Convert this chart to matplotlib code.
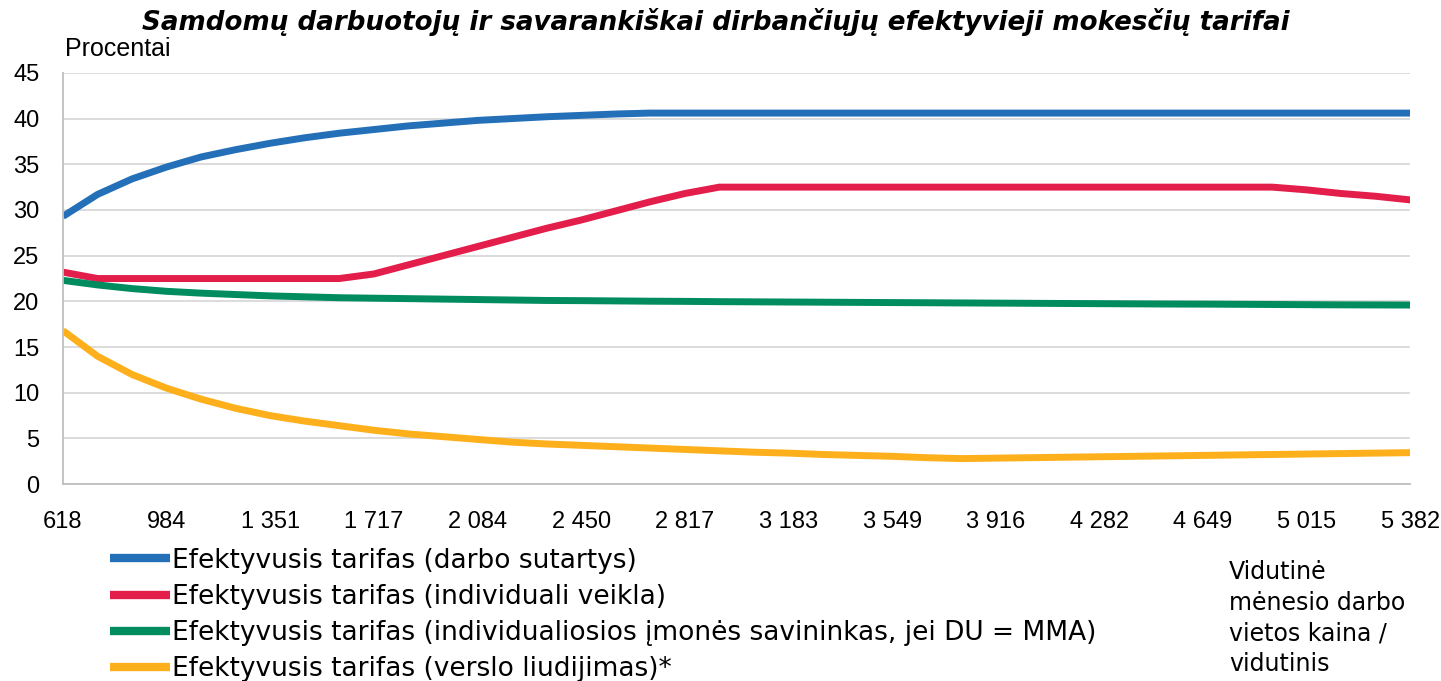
import numpy as np
import matplotlib
matplotlib.use("Agg")
import matplotlib.pyplot as plt

# vidutine darbo vietos kaina (categories, labels every 3rd)
x_labels = ["618", "984", "1 351", "1 717", "2 084", "2 450", "2 817", "3 183",
            "3 549", "3 916", "4 282", "4 649", "5 015", "5 382"]
n_points = 40

darbo_sutartys = [29.3, 31.7, 33.4, 34.7, 35.8, 36.6, 37.3, 37.9, 38.4, 38.8,
                  39.2, 39.5, 39.8, 40.0, 40.2, 40.35, 40.5, 40.6, 40.6, 40.6,
                  40.6, 40.6, 40.6, 40.6, 40.6, 40.6, 40.6, 40.6, 40.6, 40.6,
                  40.6, 40.6, 40.6, 40.6, 40.6, 40.6, 40.6, 40.6, 40.6, 40.6]
individuali_veikla = [23.2, 22.5, 22.5, 22.5, 22.5, 22.5, 22.5, 22.5, 22.5, 23.0,
                      24.0, 25.0, 26.0, 27.0, 28.0, 28.9, 29.9, 30.9, 31.8, 32.5,
                      32.5, 32.5, 32.5, 32.5, 32.5, 32.5, 32.5, 32.5, 32.5, 32.5,
                      32.5, 32.5, 32.5, 32.5, 32.5, 32.5, 32.2, 31.8, 31.5, 31.1]
imones_savininkas = [22.3, 21.8, 21.4, 21.1, 20.9, 20.75, 20.6, 20.5, 20.4, 20.35,
                     20.3, 20.25, 20.2, 20.15, 20.1, 20.08, 20.05, 20.02, 20.0, 19.97,
                     19.95, 19.93, 19.91, 19.89, 19.87, 19.85, 19.83, 19.81, 19.79, 19.77,
                     19.75, 19.73, 19.71, 19.7, 19.68, 19.66, 19.64, 19.62, 19.61, 19.6]
verslo_liudijimas = [16.8, 14.0, 12.0, 10.5, 9.3, 8.3, 7.5, 6.9, 6.4, 5.9,
                     5.5, 5.2, 4.9, 4.6, 4.4, 4.25, 4.1, 3.95, 3.8, 3.65,
                     3.5, 3.4, 3.25, 3.15, 3.05, 2.9, 2.8, 2.85, 2.9, 2.95,
                     3.0, 3.05, 3.1, 3.15, 3.2, 3.25, 3.3, 3.35, 3.4, 3.45]

series = [
    ("Efektyvusis tarifas (darbo sutartys)", darbo_sutartys, "#2470b8"),
    ("Efektyvusis tarifas (individuali veikla)", individuali_veikla, "#e31e4b"),
    ("Efektyvusis tarifas (individualiosios įmonės savininkas, jei DU = MMA)", imones_savininkas, "#008c5f"),
    ("Efektyvusis tarifas (verslo liudijimas)*", verslo_liudijimas, "#fdb01b"),
]

narrow = ["Liberation Sans Narrow", "Liberation Sans", "DejaVu Sans"]

fig = plt.figure(figsize=(14.41, 6.81), dpi=100)
ax = fig.add_axes([0.0437, 0.289, 0.935, 0.604])

x = np.arange(n_points)
for name, vals, col in series:
    ax.plot(x, vals, color=col, lw=5, label=name, solid_capstyle="butt")

ax.set_xlim(0, n_points - 1)
ax.set_ylim(0, 45)
ax.set_yticks(range(0, 46, 5))
ax.set_xticks(x[::3])
ax.set_xticklabels(x_labels)
for lab in ax.get_xticklabels() + ax.get_yticklabels():
    lab.set_family(narrow)
    lab.set_fontsize(17)
ax.tick_params(length=0, pad=19, axis="x")
ax.tick_params(length=0, pad=17, axis="y")
ax.grid(axis="y", color="#d9d9d9", lw=1.3)
ax.set_axisbelow(True)
for s in ["top", "right"]:
    ax.spines[s].set_visible(False)
for s in ["left", "bottom"]:
    ax.spines[s].set_color("#bfbfbf")
    ax.spines[s].set_linewidth(1.3)

fig.text(0.497, 0.967, "Samdomų darbuotojų ir savarankiškai dirbančiųjų efektyvieji mokesčių tarifai",
         ha="center", va="center", fontsize=18.8, fontweight="bold", fontstyle="italic")
fig.text(0.045, 0.928, "Procentai", ha="left", va="center", fontsize=18, family=narrow)

leg = fig.legend(loc="upper left", bbox_to_anchor=(0.0763, 0.196), frameon=False,
                 fontsize=19, handlelength=2.27, handletextpad=0.08, labelspacing=0.39,
                 borderpad=0, borderaxespad=0)
for ln in leg.get_lines():
    ln.set_linewidth(6)

fig.text(0.853, 0.178, "Vidutinė\nmėnesio darbo\nvietos kaina /\nvidutinis\nmėnesinis darbo",
         ha="left", va="top", fontsize=17, linespacing=1.36)

fig.savefig("out.png", dpi=100)
